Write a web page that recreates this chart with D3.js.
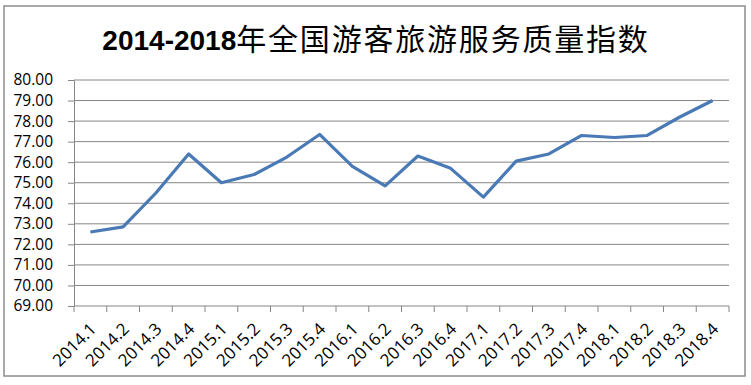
<!DOCTYPE html>
<meta charset="utf-8">
<style>
body { margin: 0; background: #fff; }
text { font-family: "Open Sans", "Liberation Sans", sans-serif; fill: #000; }
</style>
<body>
<svg width="751" height="385"></svg>
<script src="https://d3js.org/d3.v7.min.js"></script>
<script>
// quarters on the x axis
var quarters = ["2014.1","2014.2","2014.3","2014.4","2015.1","2015.2","2015.3","2015.4",
                "2016.1","2016.2","2016.3","2016.4","2017.1","2017.2","2017.3","2017.4",
                "2018.1","2018.2","2018.3","2018.4"];
// service quality index
var indexValues = [72.6, 72.85, 74.5, 76.4, 75.0, 75.4, 76.25, 77.35,
                   75.8, 74.85, 76.3, 75.7, 74.3, 76.05, 76.4, 77.3,
                   77.2, 77.3, 78.2, 79.0];
var yTicks = [69, 70, 71, 72, 73, 74, 75, 76, 77, 78, 79, 80];
var titleYears = "2014-2018";
var titleRest = "年全国游客旅游服务质量指数";

var margin = {top: 80, right: 22, bottom: 79, left: 74},
    width = 751 - margin.left - margin.right,
    height = 385 - margin.top - margin.bottom;

var svg = d3.select("svg");

// outer frame
svg.append("rect")
  .attr("x", 4).attr("y", 6)
  .attr("width", 741).attr("height", 370)
  .attr("fill", "#fff")
  .attr("stroke", "#8c8c8c")
  .attr("stroke-width", 1.5);

// title: bold digits + regular CJK
var title = svg.append("text")
  .attr("x", 376).attr("y", 50)
  .attr("text-anchor", "middle");
title.append("tspan")
  .style("font-family", "'Liberation Sans', sans-serif")
  .style("font-weight", "bold")
  .style("font-size", "28px")
  .text(titleYears);
title.append("tspan")
  .style("font-family", "'Noto Sans CJK SC', sans-serif")
  .style("font-size", "30px")
  .style("letter-spacing", "1.8px")
  .text(titleRest);

var g = svg.append("g")
  .attr("transform", "translate(" + margin.left + "," + margin.top + ")");

var x = d3.scaleBand()
  .domain(quarters)
  .range([0, width]);

var y = d3.scaleLinear()
  .domain([69, 80])
  .range([height, 0]);

// horizontal gridlines
g.append("g")
  .selectAll("line")
  .data(yTicks.filter(d => d > 69))
  .enter().append("line")
    .attr("x1", 0).attr("x2", width)
    .attr("y1", d => y(d)).attr("y2", d => y(d))
    .attr("stroke", "#868686")
    .attr("stroke-width", 1);

// y axis
var yAxis = g.append("g")
  .call(d3.axisLeft(y).tickValues(yTicks).tickFormat(d3.format(".2f")).tickSize(6).tickPadding(15));
yAxis.select(".domain").attr("stroke", "#868686");
yAxis.selectAll(".tick line").attr("stroke", "#868686");
yAxis.selectAll("text")
  .style("font-family", "'Open Sans', sans-serif")
  .style("font-size", "15.5px")
  .attr("fill", "#000");

// x axis, ticks on band edges
var xAxis = g.append("g")
  .attr("transform", "translate(0," + height + ")");
xAxis.append("line")
  .attr("x1", 0).attr("x2", width)
  .attr("stroke", "#868686");
xAxis.selectAll(".edge")
  .data(quarters.concat(["end"]))
  .enter().append("line")
    .attr("class", "edge")
    .attr("x1", (d, i) => i * x.bandwidth())
    .attr("x2", (d, i) => i * x.bandwidth())
    .attr("y1", 0).attr("y2", 6)
    .attr("stroke", "#868686");
xAxis.selectAll(".lbl")
  .data(quarters)
  .enter().append("text")
    .attr("class", "lbl")
    .attr("text-anchor", "end")
    .attr("transform", d => "translate(" + (x(d) + x.bandwidth() / 2 + 7) + ",24) rotate(-45)")
    .style("font-family", "'Open Sans', sans-serif")
    .style("font-size", "17px")
    .text(d => d);

// the line
var line = d3.line()
  .x((d, i) => x(quarters[i]) + x.bandwidth() / 2)
  .y(d => y(d));

g.append("path")
  .datum(indexValues)
  .attr("fill", "none")
  .attr("stroke", "#4a7ab6")
  .attr("stroke-width", 3.2)
  .attr("stroke-linejoin", "round")
  .attr("d", line);
</script>
</body>
